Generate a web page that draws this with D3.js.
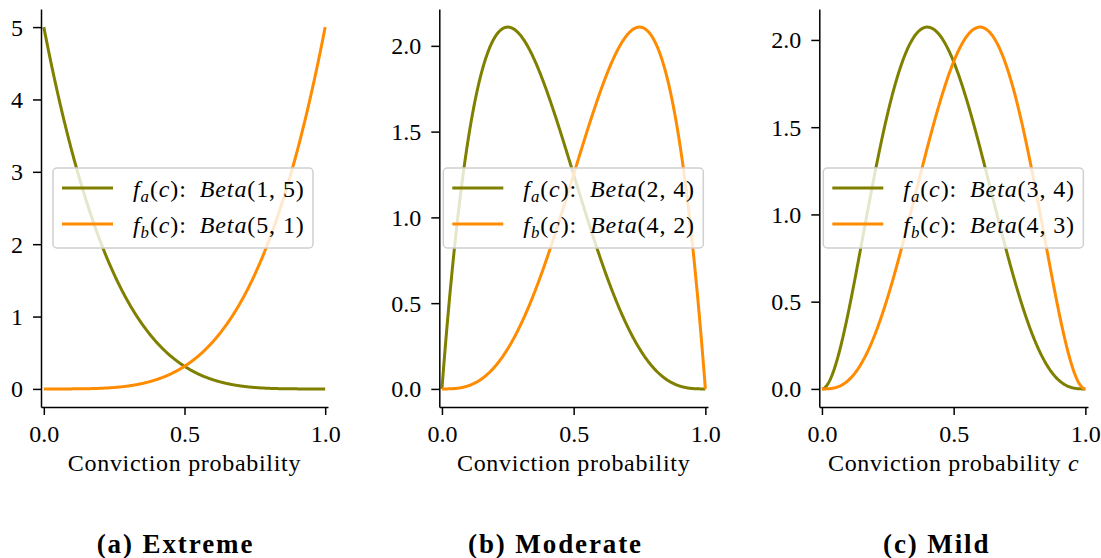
<!DOCTYPE html>
<html>
<head>
<meta charset="utf-8">
<script src="https://cdn.jsdelivr.net/npm/d3@7"></script>
<style>
  html, body { margin: 0; padding: 0; background: #fff; }
  svg { display: block; }
</style>
</head>
<body>
<svg id="chart" width="1101" height="558"></svg>
<script>
// Three scenarios of prior beliefs about conviction probability
const captions = ["(a) Extreme", "(b) Moderate", "(c) Mild"];
// Beta parameters of f_a (olive) and f_b (orange) in each scenario
const alphaA = [1, 2, 3];
const betaA  = [5, 4, 4];
const alphaB = [5, 4, 4];
const betaB  = [1, 2, 3];
const xTicks = [0, 0.5, 1];
const xTickLabels = ["0.0", "0.5", "1.0"];
const yTicks = [[0, 1, 2, 3, 4, 5], [0, 0.5, 1, 1.5, 2], [0, 0.5, 1, 1.5, 2]];
const yTickLabels = [["0", "1", "2", "3", "4", "5"],
                     ["0.0", "0.5", "1.0", "1.5", "2.0"],
                     ["0.0", "0.5", "1.0", "1.5", "2.0"]];
const xLabels = ["Conviction probability", "Conviction probability", "Conviction probability"];
const xLabelVar = ["", "", "c"];

const colorA = "#808000";
const colorB = "#ff8c00";
const FONT = "'Liberation Serif', 'Times New Roman', serif";
const FS = 24;

// Beta density via log-gamma
function logGamma(z) {
  const g = 7;
  const c = [0.99999999999980993, 676.5203681218851, -1259.1392167224028,
    771.32342877765313, -176.61502916214059, 12.507343278686905,
    -0.13857109526572012, 9.9843695780195716e-6, 1.5056327351493116e-7];
  if (z < 0.5) return Math.log(Math.PI / Math.sin(Math.PI * z)) - logGamma(1 - z);
  z -= 1;
  let x = c[0];
  for (let i = 1; i < g + 2; i++) x += c[i] / (z + i);
  const t = z + g + 0.5;
  return 0.5 * Math.log(2 * Math.PI) + (z + 0.5) * Math.log(t) - t + Math.log(x);
}
function betaPdf(x, a, b) {
  if (x <= 0) return a === 1 ? b : 0;
  if (x >= 1) return b === 1 ? a : 0;
  const lb = logGamma(a) + logGamma(b) - logGamma(a + b);
  return Math.exp((a - 1) * Math.log(x) + (b - 1) * Math.log(1 - x) - lb);
}

// Panel frames (pixels)
const frames = [
  { left: 41,    right: 328,  capX: 175.5 },
  { left: 439.3, right: 708,  capX: 555.5 },
  { left: 819.3, right: 1088, capX: 936.7 }
];
const plotTop = 9, plotBottom = 407;
const legendOffset = [12, 4, 4];

const svg = d3.select("#chart");
const grid = d3.range(0, 1.0000001, 0.002);

captions.forEach((cap, i) => {
  const f = frames[i];
  const curveA = grid.map(c => [c, betaPdf(c, alphaA[i], betaA[i])]);
  const curveB = grid.map(c => [c, betaPdf(c, alphaB[i], betaB[i])]);
  const ymax = d3.max(curveA.concat(curveB), d => d[1]);

  const x = d3.scaleLinear().domain([-0.01, 1.01]).range([f.left, f.right]);
  const y = d3.scaleLinear().domain([-0.05 * ymax, 1.05 * ymax]).range([plotBottom, plotTop]);

  const g = svg.append("g");

  const line = d3.line().x(d => x(d[0])).y(d => y(d[1]));
  g.append("path").datum(curveA).attr("d", line)
    .attr("fill", "none").attr("stroke", colorA).attr("stroke-width", 3)
    .attr("stroke-linejoin", "round");
  g.append("path").datum(curveB).attr("d", line)
    .attr("fill", "none").attr("stroke", colorB).attr("stroke-width", 3)
    .attr("stroke-linejoin", "round");

  // Axes
  const xAxis = d3.axisBottom(x).tickValues(xTicks)
    .tickFormat((d, k) => xTickLabels[k]).tickSize(8).tickSizeOuter(0).tickPadding(10);
  const yAxis = d3.axisLeft(y).tickValues(yTicks[i])
    .tickFormat((d, k) => yTickLabels[i][k]).tickSize(8).tickSizeOuter(0).tickPadding(10);

  const gx = g.append("g").attr("transform", `translate(0,${plotBottom})`).call(xAxis);
  const gy = g.append("g").attr("transform", `translate(${f.left},0)`).call(yAxis);
  [gx, gy].forEach(ax => {
    ax.attr("font-family", FONT).attr("font-size", FS);
    ax.selectAll("path.domain").attr("stroke", "#000").attr("stroke-width", 1.5);
    ax.selectAll(".tick line").attr("stroke", "#000").attr("stroke-width", 1.5);
    ax.selectAll(".tick text").attr("fill", "#000");
  });
  gy.selectAll(".tick text").attr("dy", "0.33em");

  // x-axis label
  const xl = g.append("text")
    .attr("x", (f.left + f.right) / 2).attr("y", 471)
    .attr("text-anchor", "middle")
    .attr("font-family", FONT).attr("font-size", FS).attr("fill", "#000")
    .attr("letter-spacing", 0.7);
  xl.append("tspan").text(xLabels[i]);
  if (xLabelVar[i]) {
    xl.append("tspan").text(" ");
    xl.append("tspan").attr("font-style", "italic").text(xLabelVar[i]);
  }

  // Legend
  const lx = f.left + legendOffset[i], ly = 168, lw = 260, lh = 80;
  const lg = g.append("g");
  lg.append("rect").attr("x", lx).attr("y", ly).attr("width", lw).attr("height", lh)
    .attr("rx", 4).attr("fill", "#fff").attr("fill-opacity", 0.8)
    .attr("stroke", "#d0d0d0").attr("stroke-width", 1.5);
  const entries = [
    { color: colorA, sub: "a", p: [alphaA[i], betaA[i]] },
    { color: colorB, sub: "b", p: [alphaB[i], betaB[i]] }
  ];
  entries.forEach((e, k) => {
    const cy = 188 + k * 36;
    lg.append("line").attr("x1", lx + 9).attr("x2", lx + 60)
      .attr("y1", cy).attr("y2", cy)
      .attr("stroke", e.color).attr("stroke-width", 3);
    const t = lg.append("text").attr("x", lx + 80).attr("y", cy + 8.5)
      .attr("font-family", FONT).attr("font-size", FS).attr("fill", "#000")
      .attr("letter-spacing", 0.9);
    t.append("tspan").attr("font-style", "italic").text("f");
    t.append("tspan").attr("font-style", "italic").attr("font-size", FS * 0.7)
      .attr("dy", 5).text(e.sub);
    t.append("tspan").attr("dy", -5).text("(");
    t.append("tspan").attr("font-style", "italic").text("c");
    t.append("tspan").text("):\u2002");
    t.append("tspan").attr("font-style", "italic").text("Beta");
    t.append("tspan").text(`(${e.p[0]}, ${e.p[1]})`);
  });

  // Sub-figure caption
  svg.append("text").attr("x", f.capX).attr("y", 553)
    .attr("text-anchor", "middle")
    .attr("font-family", FONT).attr("font-size", 27).attr("font-weight", "bold")
    .attr("letter-spacing", 1.9)
    .attr("fill", "#000").text(cap);
});
</script>
</body>
</html>
